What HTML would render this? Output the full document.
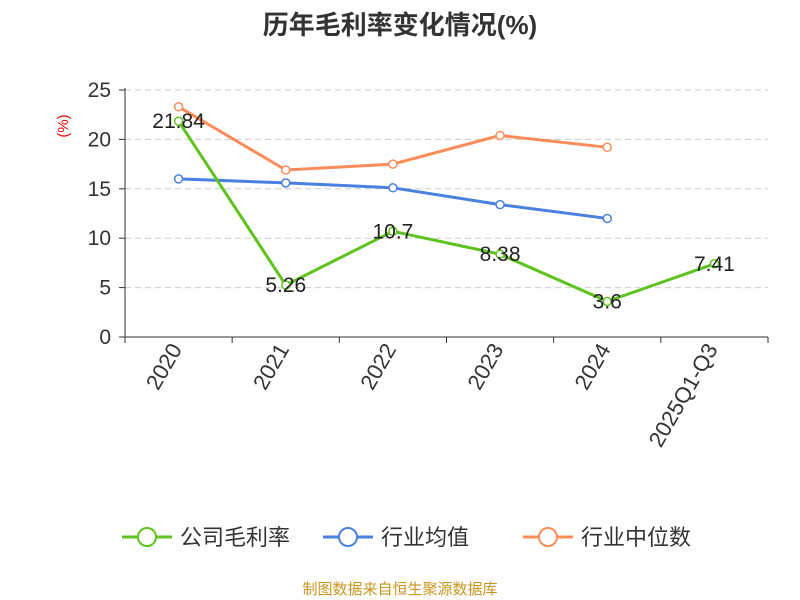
<!DOCTYPE html>
<html><head><meta charset="utf-8"><style>
body{margin:0;background:#fff;}
svg{display:block;font-family:"Liberation Sans","Noto Sans CJK SC",sans-serif;}
</style></head><body>
<svg id="c" width="800" height="600">
<text x="400" y="34" text-anchor="middle" font-size="26" font-weight="bold" fill="#333">历年毛利率变化情况(%)</text>
<text x="0" y="0" transform="translate(68,126) rotate(-90)" text-anchor="middle" font-size="15" fill="#e00">(%)</text>
<text x="400" y="594" text-anchor="middle" font-size="15" fill="#c8961e">制图数据来自恒生聚源数据库</text>
</svg>
<script>
const categories=["2020","2021","2022","2023","2024","2025Q1-Q3"];
const companyValues=[21.84,5.26,10.7,8.38,3.6,7.41];
const industryAvg=[16.0,15.6,15.1,13.4,12.0,null];
const industryMedian=[23.3,16.9,17.5,20.4,19.2,null];
const yTicks=[0,5,10,15,20,25];
const seriesNames=["公司毛利率","行业均值","行业中位数"];
const svg=document.getElementById('c');
const NS="http://www.w3.org/2000/svg";
const x0=125,x1=768,yb=337,yt=90,ymax=25;
const bw=(x1-x0)/categories.length;
const X=i=>x0+bw*(i+0.5);
const Y=v=>yb-(v/ymax)*(yb-yt);
function mk(t,a,p){const e=document.createElementNS(NS,t);for(const k in a)e.setAttribute(k,a[k]);(p||svg).appendChild(e);return e;}
yTicks.forEach(v=>{
 if(v>0){const g=mk('line',{x1:x0,x2:x1,y1:Y(v),y2:Y(v),stroke:'#ccc','stroke-dasharray':'6,4'});
 
 }
 const t=mk('text',{x:x0-14,y:Y(v)+7,'text-anchor':'end','font-size':21,fill:'#333'});t.textContent=v;
 
 
 mk('line',{x1:x0-6,x2:x0,y1:Y(v),y2:Y(v),stroke:'#333'});
});
const ya=mk('line',{x1:x0,x2:x0,y1:yt-2,y2:yb,stroke:'#333'});


const xa=mk('line',{x1:x0,x2:x1,y1:yb,y2:yb,stroke:'#333'});


for(let i=0;i<=categories.length;i++)mk('line',{x1:x0+bw*i,x2:x0+bw*i,y1:yb,y2:yb+6,stroke:'#333'});
categories.forEach((c,i)=>{
 const t=mk('text',{x:0,y:0,transform:`translate(${X(i)+4},${yb+12}) rotate(-60)`,'text-anchor':'end','font-size':22,fill:'#333'});t.textContent=c;
 
 
});
function series(vals,color,name,labels){
 const g=mk('g',{});
 
 
 const pts=vals.map((v,i)=>v==null?null:[X(i),Y(v)]).filter(p=>p);
 mk('polyline',{points:pts.map(p=>p.join(',')).join(' '),fill:'none',stroke:color,'stroke-width':3},g);
 vals.forEach((v,i)=>{if(v==null)return;
  const c=mk('circle',{cx:X(i),cy:Y(v),r:4,fill:'#fff',stroke:color,'stroke-width':1.5},g);
  
  
  if(labels){const t=mk('text',{x:X(i),y:Y(v)+7,'text-anchor':'middle','font-size':21,fill:'#222'},g);t.textContent=v;
  
  }
 });
}
series(industryMedian,'#fc8c5a','series-industry-median',false);
series(industryAvg,'#4a80e0','series-industry-average',false);
series(companyValues,'#5ec31e','series-company-margin',true);
const colors=['#5ec31e','#4a80e0','#fc8c5a'];
const lx=[122,323,523];
seriesNames.forEach((n,i)=>{
 const g=mk('g',{});
 
 
 mk('line',{x1:lx[i],x2:lx[i]+50,y1:537,y2:537,stroke:colors[i],'stroke-width':3},g);
 mk('circle',{cx:lx[i]+25,cy:537,r:9,fill:'#fff',stroke:colors[i],'stroke-width':2},g);
 const t=mk('text',{x:lx[i]+58,y:545,'font-size':22,fill:'#333'},g);t.textContent=n;
});
</script>
</body></html>
